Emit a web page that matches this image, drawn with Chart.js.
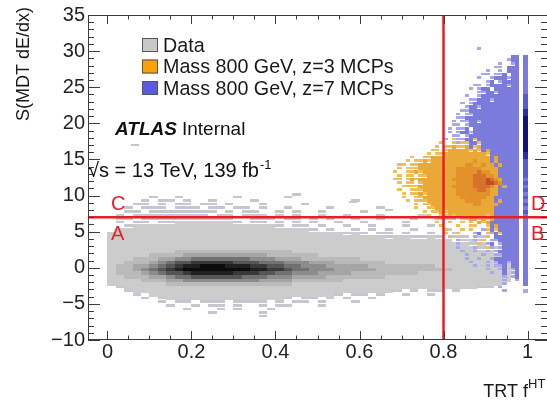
<!DOCTYPE html>
<html>
<head>
<meta charset="utf-8">
<script src="https://cdn.jsdelivr.net/npm/chart.js@4.4.1/dist/chart.umd.min.js"></script>
<style>
  html, body { margin: 0; padding: 0; background: #fff; overflow: hidden; }
  #wrap { width: 547px; height: 400px; }
</style>
</head>
<body>
<div id="wrap"><canvas id="plot" width="547" height="400"></canvas></div>
<script>
// axes
const xRange = [-0.0464, 1.0464];
const yRange = [-10, 35];
const xTicks = [0, 0.2, 0.4, 0.6, 0.8, 1];
const yTicks = [-10, -5, 0, 5, 10, 15, 20, 25, 30, 35];

// ABCD cut lines
const cutX = 0.8;
const cutY = 7;

// Data 2D histogram: bins 0.02 in x (from 0), 0.5 in y (rows from y=10 down)
// ' ' empty, '.' single entries, '1'..'9' grey levels
const dataX0 = 0, dataBinX = 0.02, dataYTop = 10, dataBinY = 0.5;
const dataRows = [
  "     .  .      .     .      ",
  "    . .. .  .    .           .   ",
  "   .. . .. .. .   .    .        ",
  "  . ... ... .. .. .  .    .     .   ",
  "  .. ........ . ..  . .  .    .   ",
  " . ......... .. ... . .  .  .   .    .  ",
  " .. ...........  ... .. . .  .  .   .   .  ",
  " . .. ..1111111. .. . . .  .  .    .  ",
  "  .11111111111111111. .. .  .  .   .  .  ",
  " 11111111111111111111111. .  . . .  .   .",
  "1111111111111111111111111111.1. .. .  .  .",
  "111111111111111111111111111111111.11..1. .. .  ",
  "11111111111111111111111111111111111111111 .1. . ",
  "1111111111111111111111111111111111111111111.1.  ",
  "11111111111111111111111111111111111111111111. . ",
  "1111111122222222222222111111111111111111111111  ",
  "11111222233333333332222221111111111111111111111 ",
  "111222334455555554443332222222111111111111111111",
  "112223456677777666555444333222222111111111111111",
  "122334567889998887766554443333322222222111111111",
  "122345678999999998877655444333332222222221111111",
  "122234566788888777665544433332222222211111111111",
  "112223345566666655544433332222222111111111111111",
  "111122233444444444333322222211111111111111111111",
  "11111112222222222222221111111111111111111111111 ",
  " .111111111111111111111111111111111111111111..  ",
  "  .1111111111111111111111111111111. . .. . ",
  "   . 1111111111111111111111. .. .  .  .",
  "    . .11111111111111. .. . .  .  ",
  "      . .. ... .... . .. .   .  ",
  "       .  . .. .  . ..   .  ",
  "         .   . .   .    ",
  "            .     .     ",
  "                  .     "
];
const dataStrayX = [0.055, 0.44, 0.575, 0.66];
const dataStrayY = [17.2, 10.3, 9.3, 8.2];
const greyLevels = {
  '.': '#c6c6d3', '1': '#cccccc', '2': '#bababa', '3': '#a5a5a5', '4': '#8c8c8c',
  '5': '#717171', '6': '#555555', '7': '#393939', '8': '#202020', '9': '#0c0c0c'
};

// MCP signal histograms: bins 0.01 in x (from 0.68), 0.5 in y (rows from y=30.5 down)
// rows are right-aligned to x=0.98; a..e = z=7 (blue), O..S = z=3 (orange)
const sigX0 = 0.68, sigBinX = 0.01, sigYTop = 30.5, sigBinY = 0.5, sigCols = 30;
const sigRows = [
  'a         ',
  '',
  'bb',
  'abb',
  'a  ab',
  'aa bbb',
  'a  a bbb',
  'aa aab bb',
  'a  abbbabb',
  'ab abbbb',
  'aa abbbbabb',
  'a abb bbbbbb',
  'aabbabbbbb',
  'a  abbbbbbbbb',
  'aabbbabbbbbb',
  'a abbbbbbbbbbb',
  'abbabbbbbbbbb',
  'aabbbbbbbbbbbb',
  'a aabbbbbbbbbbb',
  'aabbbbbbbbbbbbb',
  'a aabbabbbbbbbbb',
  'aa abbbbbbbbbbbb',
  'a aab bbbbbbbbbbb',
  'a abbabbbbbbbbbbb',
  'aa abbbbbbbbbbbb',
  'a OaabbObbbbbbbbbb',
  'O  OaOObbObbbbbbbbb',
  'O OOPOOPbOPbbbbbbbbb',
  'OO OPPPPPOPObPbbbbbbb',
  'O OOPPPPPPPPPPObbbbbbb',
  'O  OOPPPPPPPPPPPPPPbPbbbbb',
  'O OOPOPPPPPPPPPPQPPPbPbbbbb',
  'OO OOPPPPPPPPPPPQQPPQPPbPbbbb',
  'O OOOPPPPPPPPPQQQQQQPPPPbbbbb',
  'O  OOPOPPPPPPPPQQQQQRQQPPbbbbb',
  ' O OO OOPPPPPPPQQQQRRRQQPbbbbb',
  'OO OPOPPPPPPPPQQQQQRRRSRQPbbbb',
  ' O OO OPPPPPPPPQQQQRRRSSRQbbbb',
  '  OOOOPPPPPPPPQQQQQRRRRQPbPbbb',
  ' O  OOOPPPPPPPPQQQQQRRQPPbbbbb',
  '  O OOPOPPPPPPPQQQQQQQQPPbbbbb',
  '  O  OOPPPPPPPPPQQQQQQPPbbbbbb',
  '   O OOOPPPPPPPPPQQQQPPPbPbbbb',
  '     O OOPPPPPPPPPPQQPPPPbbbbb',
  '     O  OOPPPPPPPPPPPPPPbbbbbb',
  '       O OOPOPPPPPPPPPPPbbbbbb',
  '        O  OOPOPPPPPPPOPbbbbbb',
  'OO  O OOPPOPOPbbbbbb',
  'O  O  O O POPbbbbbbb',
  'O   O  OO  ObPbbbbb',
  'O   O O  aObObbbbb',
  'O  O   ab OabObbbb',
  'O     a  O bbbbbb',
  'a   a O aabbbbb',
  'a    O ab abbbb',
  'a   a  Oa abbbb',
  'a  a  a abbbbb',
  'a   a  aabbbb',
  'a  a  abbbbbb',
  'a   a abbabb',
  'a  a aab bb',
  'a  ab ab',
  'a  b ab',
  'a ab',
  'a  a',
  'a   ',
  'a    ',
  'a   '
];
// z=7 column in the last bin (0.99-1.00), same rows
const sigEdgeX = 0.99;
const sigEdge = '  ' + 'bbbbbbbbbbb' + 'cccc' + 'dd' + 'eeeeeeeeee' + 'dd' + 'cccc' +
  'cbcbcbcbcbcb' + 'bbbbbbbbbbbbbbbbbbb' + ' a';
const sigLevels = {
  a: '#a8a8ec', b: '#7b7bdc', c: '#5a5ad0', d: '#2c2ca6', e: '#121276',
  O: '#f1bd55', P: '#eaa837', Q: '#e2912b', R: '#d6722a', S: '#c24c28'
};

const legendLabels = ['Data', 'Mass 800 GeV, z=3 MCPs', 'Mass 800 GeV, z=7 MCPs'];
const legendColors = ['#c8c8c8', '#ff9f00', '#5a5ae2'];

const FONT = '"Liberation Sans", Arial, Helvetica, sans-serif';

function cell(ctx, xs, ys, xa, xb, ya, yb, color, gap) {
  const px0 = Math.round(xs.getPixelForValue(xa));
  const px1 = Math.round(xs.getPixelForValue(xb));
  const py0 = Math.round(ys.getPixelForValue(yb));
  const py1 = Math.round(ys.getPixelForValue(ya));
  ctx.fillStyle = color;
  ctx.fillRect(px0, py0, px1 - px0, py1 - py0 - (gap || 0));
}

// sparse bins drawn as thin dashes
const sparse = '.aO';

const histos = {
  id: 'histos',
  beforeDatasetsDraw(chart) {
    const { ctx, chartArea: a, scales: { x, y } } = chart;
    ctx.save();
    ctx.beginPath();
    ctx.rect(a.left, a.top, a.right - a.left, a.bottom - a.top);
    ctx.clip();

    // data
    dataRows.forEach((row, r) => {
      const yHi = dataYTop - r * dataBinY;
      for (let c = 0; c < row.length; c++) {
        const col = greyLevels[row[c]];
        if (!col) continue;
        const xLo = dataX0 + c * dataBinX;
        cell(ctx, x, y, xLo, xLo + dataBinX, yHi - dataBinY, yHi, col, sparse.includes(row[c]) ? 1 : 0);
      }
    });
    dataStrayX.forEach((sx, i) => {
      cell(ctx, x, y, sx, sx + dataBinX, dataStrayY[i] - dataBinY, dataStrayY[i], greyLevels['.'], 1);
    });

    // signals
    sigRows.forEach((row, r) => {
      const s = row.padStart(sigCols);
      const yHi = sigYTop - r * sigBinY;
      for (let c = 0; c < s.length; c++) {
        const col = sigLevels[s[c]];
        if (!col) continue;
        const xLo = sigX0 + c * sigBinX;
        cell(ctx, x, y, xLo, xLo + sigBinX, yHi - sigBinY, yHi, col, sparse.includes(s[c]) ? 1 : 0);
      }
      const e = sigLevels[sigEdge[r]];
      if (e) cell(ctx, x, y, sigEdgeX, sigEdgeX + sigBinX, yHi - sigBinY, yHi, e, 0);
    });
    ctx.restore();
  }
};

const frame = {
  id: 'frame',
  afterDatasetsDraw(chart) {
    const { ctx, chartArea: a, scales: { x, y } } = chart;
    ctx.save();
    ctx.strokeStyle = '#3c3c3c';
    ctx.lineWidth = 1;
    ctx.beginPath();
    ctx.moveTo(a.left + 0.5, a.top);
    ctx.lineTo(a.left + 0.5, a.bottom);
    ctx.moveTo(a.left, a.bottom - 0.5);
    ctx.lineTo(a.right, a.bottom - 0.5);
    ctx.moveTo(a.left, a.top + 0.5);
    ctx.lineTo(a.right, a.top + 0.5);
    for (let i = 0; i <= 20; i++) {
      const px = Math.round(x.getPixelForValue(i * 0.05)) + 0.5;
      const len = i % 4 === 0 ? 9 : 4.5;
      ctx.moveTo(px, a.bottom); ctx.lineTo(px, a.bottom - len);
      ctx.moveTo(px, a.top); ctx.lineTo(px, a.top + len);
    }
    for (let v = yRange[0]; v <= yRange[1]; v++) {
      const py = Math.round(y.getPixelForValue(v)) + 0.5;
      const len = v % 5 === 0 ? 12 : 6;
      ctx.moveTo(a.left, py); ctx.lineTo(a.left + len, py);
      ctx.moveTo(a.right, py); ctx.lineTo(a.right - len, py);
    }
    ctx.stroke();

    // legend
    ctx.textBaseline = 'alphabetic';
    ctx.textAlign = 'left';
    ctx.font = '19.7px ' + FONT;
    legendLabels.forEach((lab, i) => {
      const top = 38 + i * 21.5;
      ctx.fillStyle = legendColors[i];
      ctx.fillRect(142, top, 16, 14);
      ctx.strokeStyle = '#555';
      ctx.strokeRect(142.5, top + 0.5, 15, 13);
      ctx.fillStyle = '#1a1a1a';
      ctx.fillText(lab, 163, top + 13.5);
    });

    // ATLAS label
    ctx.font = 'italic bold 19px ' + FONT;
    ctx.fillStyle = '#111';
    ctx.fillText('ATLAS', 115, 135);
    ctx.font = '19px ' + FONT;
    ctx.fillText('Internal', 182, 135);

    ctx.font = '20px ' + FONT;
    const en = '\u221As = 13 TeV, 139 fb';
    ctx.fillText(en, 88, 177);
    const w = ctx.measureText(en).width;
    ctx.font = '13px ' + FONT;
    ctx.fillText('-1', 89 + w, 169);

    // region labels
    ctx.fillStyle = '#e8202a';
    ctx.font = '20px ' + FONT;
    ctx.fillText('C', 111, 210);
    ctx.fillText('A', 111, 240);
    ctx.fillText('D', 531, 210);
    ctx.fillText('B', 531, 240);

    // axis titles
    ctx.fillStyle = '#1a1a1a';
    ctx.font = '18px ' + FONT;
    ctx.save();
    ctx.translate(29, 7);
    ctx.rotate(-Math.PI / 2);
    ctx.textAlign = 'right';
    ctx.fillText('S(MDT dE/dx)', 0, 0);
    ctx.restore();

    ctx.textAlign = 'right';
    ctx.font = '18px ' + FONT;
    ctx.fillText('TRT f', 528, 397);
    ctx.textAlign = 'left';
    ctx.font = '13px ' + FONT;
    ctx.fillText('HT', 528, 388);
    ctx.restore();
  }
};

const tickFont = { family: FONT, size: 20 };

new Chart(document.getElementById('plot'), {
  type: 'scatter',
  data: {
    datasets: [
      {
        data: [{ x: cutX, y: yRange[0] }, { x: cutX, y: yRange[1] }],
        showLine: true, borderColor: '#ea1c24', borderWidth: 2.5, pointRadius: 0
      },
      {
        data: [{ x: xRange[0], y: cutY }, { x: xRange[1], y: cutY }],
        showLine: true, borderColor: '#ea1c24', borderWidth: 2.5, pointRadius: 0
      }
    ]
  },
  options: {
    responsive: false,
    animation: false,
    events: [],
    layout: { padding: { top: 11, right: 0, left: 0, bottom: 0 } },
    plugins: { legend: { display: false }, tooltip: { enabled: false } },
    scales: {
      x: {
        type: 'linear', min: xRange[0], max: xRange[1],
        grid: { display: false, drawTicks: false }, border: { display: false },
        afterBuildTicks: s => { s.ticks = xTicks.map(v => ({ value: v })); },
        afterFit: s => { s.height = 60; },
        ticks: { font: tickFont, color: '#222', padding: 0, maxRotation: 0, autoSkip: false,
          callback: v => String(v) }
      },
      y: {
        type: 'linear', min: yRange[0], max: yRange[1],
        grid: { display: false, drawTicks: false }, border: { display: false },
        afterBuildTicks: s => { s.ticks = yTicks.map(v => ({ value: v })); },
        afterFit: s => { s.width = 88; },
        ticks: { font: tickFont, color: '#222', padding: 3, autoSkip: false,
          callback: v => (v < 0 ? '\u2212' + Math.abs(v) : String(v)) }
      }
    }
  },
  plugins: [histos, frame]
});
</script>
</body>
</html>
